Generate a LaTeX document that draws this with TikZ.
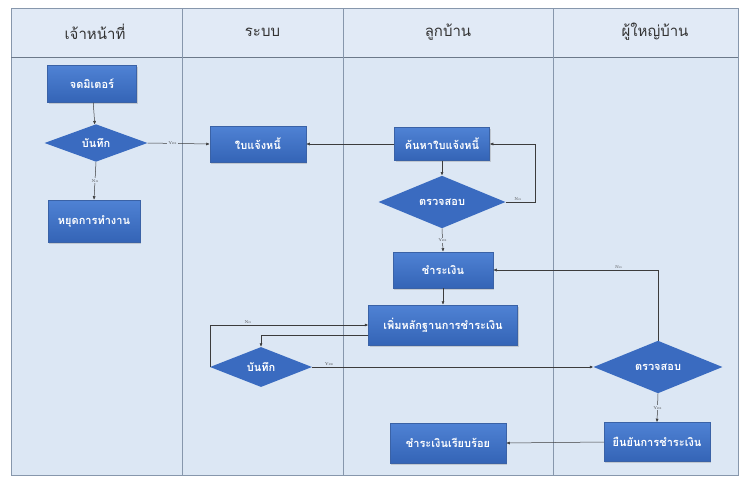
\documentclass[tikz,border=0pt]{standalone}
\usepackage{fontspec}
\newfontfamily\thaifont[Script=Thai]{Loma}
\usetikzlibrary{shapes.geometric,arrows.meta,shadows}
\definecolor{lanebg}{HTML}{DCE7F4}
\definecolor{headbg}{HTML}{E1EAF6}
\definecolor{laneline}{HTML}{8797AC}
\definecolor{boxtop}{HTML}{4F82D4}
\definecolor{boxbot}{HTML}{3464B6}
\definecolor{boxedge}{HTML}{3A62A6}
\definecolor{diafill}{HTML}{3A6BC0}
\definecolor{linkcol}{HTML}{3C3C3C}
\begin{document}
\begin{tikzpicture}[x=1pt,y=-1pt,
  procbox/.style={rectangle, draw=boxedge, line width=0.5pt,
    top color=boxtop, bottom color=boxbot, text=white, inner sep=0pt,
    font=\thaifont\bfseries\fontsize{11}{13}\selectfont,
    drop shadow={shadow xshift=1pt, shadow yshift=-1.5pt, opacity=0.3}},
  decision/.style={diamond, fill=diafill, text=white, inner sep=0pt,
    font=\thaifont\bfseries\fontsize{11}{13}\selectfont},
  lanehead/.style={font=\thaifont\fontsize{15}{17}\selectfont, text=black!80},
  link/.style={draw=linkcol, line width=0.5pt, -{Latex[length=3.5pt,width=3pt]}},
  lbl/.style={font=\fontsize{4}{5}\selectfont, text=black!75, inner sep=1pt}
]
\useasboundingbox (0,0) rectangle (739,477);
% swimlane backgrounds and headers
\fill[lanebg] (11,57) rectangle (738,475);
\fill[headbg] (11,8) rectangle (738,57);
\draw[laneline, line width=0.8pt] (11,8) rectangle (738,475);
\draw[laneline!80!black, line width=0.8pt] (11,57) -- (738,57);
\foreach \x in {182,343,553}
  \draw[laneline, line width=0.8pt] (\x,8) -- (\x,475);
\node[lanehead] (h1) at (95,32) {เจ้าหน้าที่};
\node[lanehead] (h2) at (262.5,32) {ระบบ};
\node[lanehead] (h3) at (448,32) {ลูกบ้าน};
\node[lanehead] (h4) at (655,32) {ผู้ใหญ่บ้าน};

% process steps
\node[procbox, minimum width=89pt, minimum height=37pt] (meter) at (92,84) {จดมิเตอร์};
\node[decision, minimum width=103pt, minimum height=37pt] (save1) at (96,143) {บันทึก};
\node[procbox, minimum width=92pt, minimum height=42pt] (stop) at (94,221) {หยุดการทำงาน};
\node[procbox, minimum width=96pt, minimum height=36pt] (bill) at (258,144) {ใบแจ้งหนี้};
\node[procbox, minimum width=95pt, minimum height=33pt] (find) at (442,144) {ค้นหาใบแจ้งหนี้};
\node[decision, minimum width=127pt, minimum height=39pt] (check1) at (442,202) {ตรวจสอบ};
\node[procbox, minimum width=100pt, minimum height=36pt] (pay) at (443,270) {ชำระเงิน};
\node[procbox, minimum width=149pt, minimum height=40pt] (proof) at (443,325) {เพิ่มหลักฐานการชำระเงิน};
\node[decision, minimum width=102pt, minimum height=40pt] (save2) at (261,367) {บันทึก};
\node[decision, minimum width=129pt, minimum height=38pt] (check2) at (658,367) {ตรวจสอบ};
\node[procbox, minimum width=106pt, minimum height=39pt] (confirm) at (657,442) {ยืนยันการชำระเงิน};
\node[procbox, minimum width=116pt, minimum height=40pt] (done) at (448,443) {ชำระเงินเรียบร้อย};

% connectors
\draw[link] (meter) -- (save1);
\draw[link] (save1.east) -- node[lbl, fill=lanebg, pos=0.4] {Yes} (bill.west);
\draw[link] (save1.south) -- node[lbl, fill=lanebg] {No} (stop.north);
\draw[link] (find.west) -- (bill.east);
\draw[link] (find.south) -- (check1.north);
\draw[link] (check1.east) -- ++(30,0) node[lbl, above, pos=0.4] {No} |- (find.east);
\draw[link] (check1.south) -- node[lbl, fill=lanebg] {Yes} (pay.north);
\draw[link] (pay.south) -- (proof.north);
\draw[link] (save2.west) |- node[lbl, above, pos=0.62] {No} (proof.west);
\draw[link] ([yshift=-10pt]proof.west) -| (save2.north);
\draw[link] (save2.east) -- node[lbl, above, pos=0.06] {Yes} (check2.west);
\draw[link] (check2.north) |- node[lbl, above, pos=0.62] {No} (pay.east);
\draw[link] (check2.south) -- node[lbl, fill=lanebg] {Yes} (confirm.north);
\draw[link] (confirm.west) -- (done.east);
\end{tikzpicture}
\end{document}
